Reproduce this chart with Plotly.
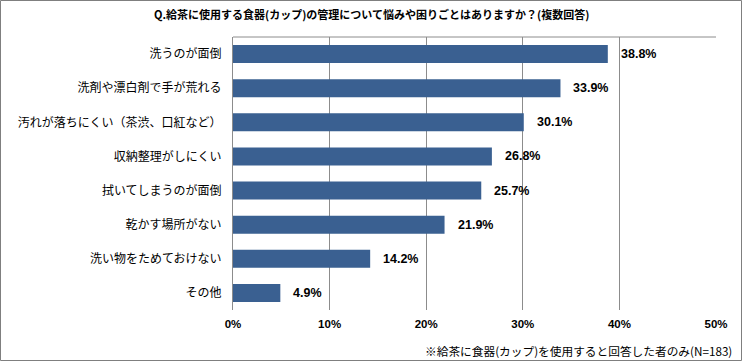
import plotly.graph_objects as go

categories = ["洗うのが面倒", "洗剤や漂白剤で手が荒れる", "汚れが落ちにくい（茶渋、口紅など）",
              "収納整理がしにくい", "拭いてしまうのが面倒", "乾かす場所がない",
              "洗い物をためておけない", "その他"]
values = [38.8, 33.9, 30.1, 26.8, 25.7, 21.9, 14.2, 4.9]
tick_vals = [0, 10, 20, 30, 40, 50]
tick_text = ["0%", "10%", "20%", "30%", "40%", "50%"]
title = "Q.給茶に使用する食器(カップ)の管理について悩みや困りごとはありますか？(複数回答)"
footnote = "※給茶に食器(カップ)を使用すると回答した者のみ(N=183)"

JP = "Noto Sans CJK JP"
BAR = "#3A6091"
GRID = "#8C8C8C"

fig = go.Figure()
fig.add_trace(go.Bar(
    x=values, y=categories, orientation="h",
    marker=dict(color=BAR, line=dict(width=0)),
    hoverinfo="skip",
))

for c, v in zip(categories, values):
    fig.add_annotation(x=v, y=c, xref="x", yref="y", text=f"<b>{v:.1f}%</b>",
                       showarrow=False, xanchor="left", xshift=11,
                       font=dict(family="Liberation Sans", size=12.5, color="#000"))

fig.update_layout(
    width=743, height=362,
    margin=dict(l=233, r=27, t=37, b=52),
    paper_bgcolor="white", plot_bgcolor="white",
    bargap=0.47,
    showlegend=False,
    xaxis=dict(range=[0, 50], tickvals=tick_vals, ticktext=tick_text,
               showgrid=True, gridcolor=GRID, gridwidth=1, zeroline=False,
               showline=False, ticks="", ticklen=0, automargin=False,
               ticklabelstandoff=5,
               tickfont=dict(family="Liberation Sans", size=11.5, color="#000", weight="bold")),
    yaxis=dict(autorange="reversed", showgrid=False, zeroline=False,
               showline=True, linecolor=GRID, linewidth=1, ticks="", ticklen=0,
               ticksuffix="   ", automargin=False,
               tickfont=dict(family=JP, size=12, color="#000")),
    font=dict(family=JP),
)

# top border of plot area
fig.add_shape(type="line", xref="x domain", yref="y domain", x0=0, x1=1, y0=1, y1=1,
              line=dict(color=GRID, width=1))
# outer frame
fig.add_shape(type="rect", xref="paper", yref="paper",
              x0=-232.5/483, x1=1 + 25.5/483,
              y0=-50.5/273, y1=1 + 36.5/273, line=dict(color="#7F7F7F", width=1))

fig.add_annotation(text=f"<b>{title}</b>", xref="paper", yref="paper",
                   x=(371 - 233) / 483, y=1 + (37 - 14) / 273, xanchor="center", yanchor="middle",
                   showarrow=False, font=dict(family=JP, size=11, color="#000"))
fig.add_annotation(text=footnote, xref="paper", yref="paper",
                   x=(734 - 233) / 483, y=-(350 - 310) / 273, xanchor="right", yanchor="middle",
                   showarrow=False, font=dict(family=JP, size=11.7, color="#000"))

fig.write_html("out.html", config={"displayModeBar": False},
               post_script="document.body.style.margin='0';")
